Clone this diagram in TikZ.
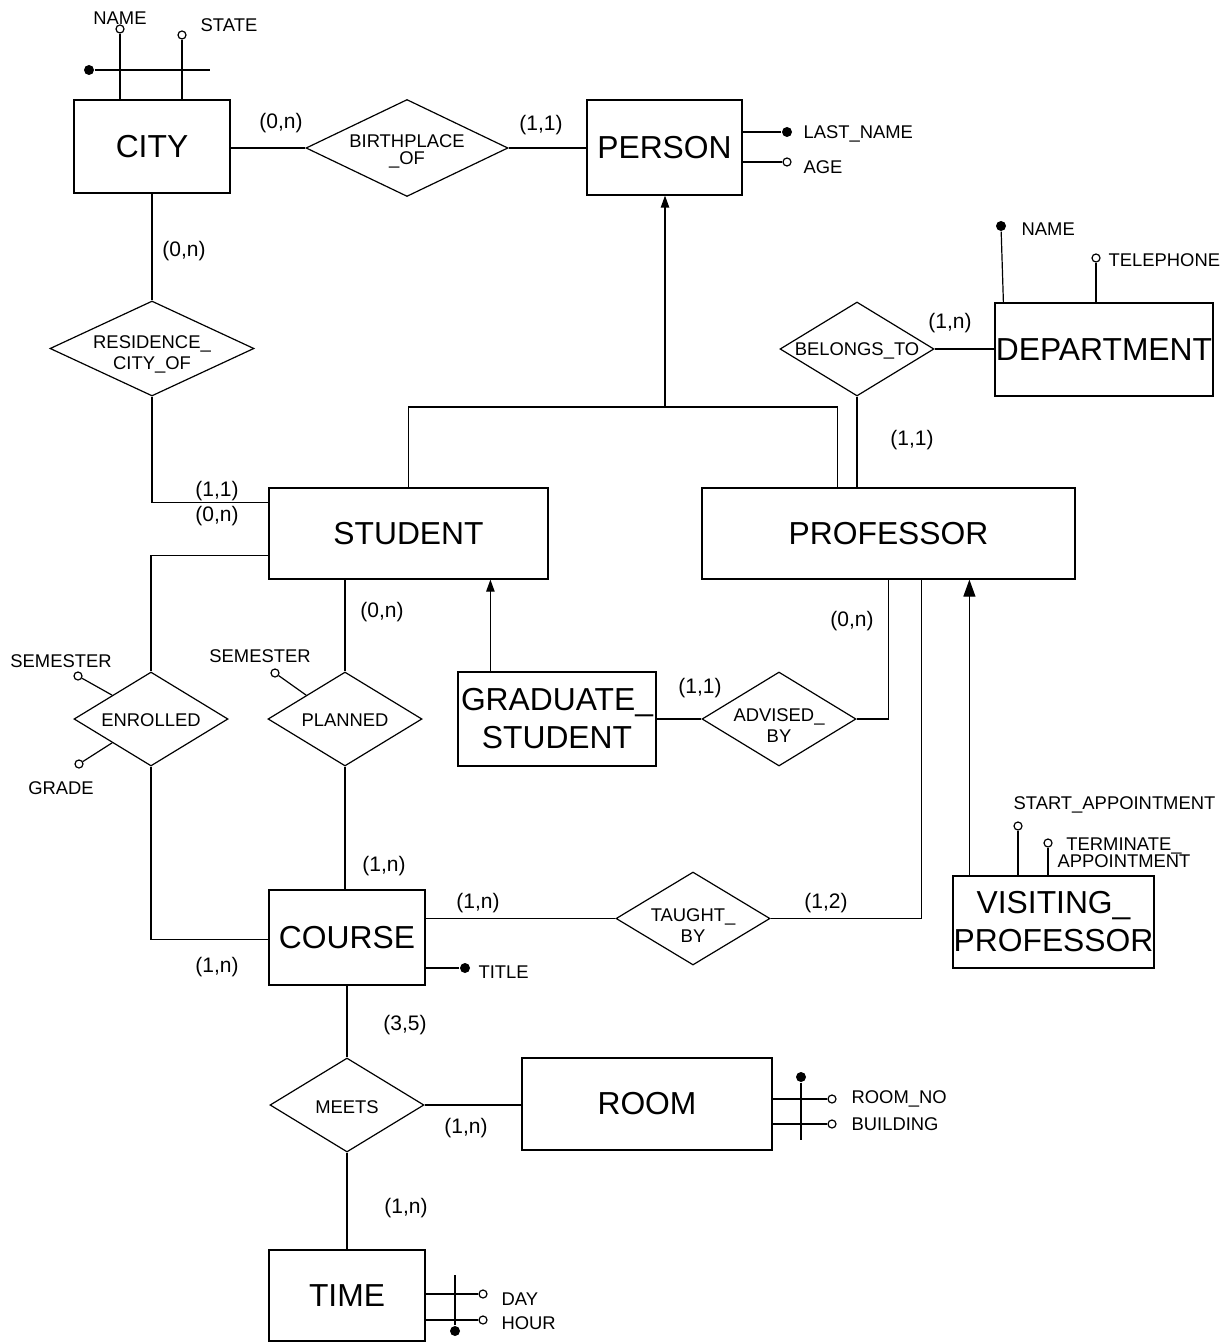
\documentclass[tikz,border=0pt]{standalone}
\usepackage{fontspec}
\setmainfont{Liberation Sans}
\usetikzlibrary{shapes.geometric,arrows.meta,calc}

\tikzset{
  ent/.style={draw, rectangle, inner sep=0pt, align=center,
              font=\fontsize{15.9}{19}\selectfont},
  rel/.style={draw, diamond, inner sep=0pt, minimum width=77pt, minimum height=47pt},
  reltext/.style={inner sep=0pt, align=center, font=\fontsize{9.2}{10.5}\selectfont},
  card/.style={inner sep=0pt, font=\fontsize{10.5}{12}\selectfont},
  lbl/.style={inner sep=0pt, font=\fontsize{9.2}{10.5}\selectfont},
  keyattr/.style={circle, fill=black, inner sep=0pt, minimum size=5pt},
  optattr/.style={circle, draw, fill=white, inner sep=0pt, minimum size=4pt},
  link/.style={line width=0.6pt},
  isasmall/.style={link, -{Triangle[length=6pt,width=4.2pt]}},
  isabig/.style={link, -{Triangle[length=8.5pt,width=6pt]}}
}

\begin{document}
\begin{tikzpicture}[x=0.5pt, y=-0.5pt, line width=0.6pt]
\useasboundingbox (0,0) rectangle (1226,1342);

% ---------- entities ----------
\node[ent, minimum width=78pt,   minimum height=46.5pt] (city)      at (152,146.5)  {CITY};
\node[ent, minimum width=77.5pt, minimum height=47.5pt] (person)    at (664.5,147.5) {PERSON};
\node[ent, minimum width=109pt,  minimum height=46.5pt] (dept)      at (1104,349.5) {DEPARTMENT};
\node[ent, minimum width=139.5pt,minimum height=45.5pt] (student)   at (408.5,533.5) {STUDENT};
\node[ent, minimum width=186.5pt,minimum height=45.5pt] (professor) at (888.5,533.5) {PROFESSOR};
\node[ent, minimum width=99pt,   minimum height=47pt]   (grad)      at (557,719)    {GRADUATE\_\\STUDENT};
\node[ent, minimum width=100.5pt,minimum height=46pt]   (visiting)  at (1053.5,922) {VISITING\_\\PROFESSOR};
\node[ent, minimum width=78pt,   minimum height=47.5pt] (course)    at (347,937.5)  {COURSE};
\node[ent, minimum width=125pt,  minimum height=46pt]   (room)      at (647,1104)   {ROOM};
\node[ent, minimum width=78pt,   minimum height=45.5pt] (time)      at (347,1295.5) {TIME};

% ---------- relationships (diamond + centred caption) ----------
\node[rel, minimum width=101pt, minimum height=48.5pt,
      label={[reltext, yshift=-1.5pt, font=\fontsize{9.2}{8.5}\selectfont]center:BIRTHPLACE\\\_OF}]
      (birth)    at (407,148)   {};
\node[rel, minimum width=102pt, minimum height=47.5pt,
      label={[reltext, yshift=-3pt]center:RESIDENCE\_\\CITY\_OF}]
      (resid)    at (152,348.5) {};
\node[rel, label={[reltext, yshift=-1pt]center:BELONGS\_TO}]      (belongs)  at (857,349)   {};
\node[rel, label={[reltext, yshift=-0.5pt]center:ENROLLED}]       (enrolled) at (151,719)   {};
\node[rel, label={[reltext, yshift=-0.5pt]center:PLANNED}]        (planned)  at (345,719)   {};
\node[rel, label={[reltext, yshift=-3.5pt]center:ADVISED\_\\BY}]  (advised)  at (779,719)   {};
\node[rel, minimum height=46.5pt,
      label={[reltext, yshift=-3.5pt]center:TAUGHT\_\\BY}]        (taught)   at (693,918.5) {};
\node[rel, label={[reltext, yshift=-1pt]center:MEETS}]            (meets)    at (347,1105)  {};

% ---------- relationship links ----------
\draw[link] (birth.west) -- (birth.west -| city.east);
\draw[link] (birth.east) -- (birth.east -| person.west);
\draw[link] (city.south -| resid.north) -- (resid.north);
\draw[link] (resid.south) |- ($(student.north west)+(0,15)$);
\draw[link] ($(student.south west)+(0,-24)$) -| (enrolled.north);
\draw[link] (enrolled.south) |- ($(course.north west)+(0,50)$);
\draw[link] (planned.north |- student.south) -- (planned.north);
\draw[link] (planned.south) -- (planned.south |- course.north);
\draw[link] (advised.west -| grad.east) -- (advised.west);
\draw[link] (advised.east) -| (professor.south);
\draw[link] (belongs.south) -- (belongs.south |- professor.north);
\draw[link] (belongs.east) -- (belongs.east -| dept.west);
\draw[link] (taught.west -| course.east) -- (taught.west);
\draw[link] (taught.east) -| ($(professor.south west)+(220,0)$);
\draw[link] (course.south) -- (meets.north);
\draw[link] (meets.east) -- (meets.east -| room.west);
\draw[link] (meets.south) -- (time.north);

% ---------- generalisations ----------
\coordinate (isa) at (665,407);
\draw[link] (student.north) |- (isa) -| ($(professor.north west)+(136,0)$);
\draw[isasmall] (isa) -- (isa |- person.south);
\coordinate (gradtop) at ($(grad.north west)+(33,0)$);
\draw[isasmall] (gradtop) -- (gradtop |- student.south);
\coordinate (vistop) at ($(visiting.north west)+(17,0)$);
\draw[isabig] (vistop) -- (vistop |- professor.south);

% ---------- attributes: CITY ----------
\node[optattr] (cname)  at (120,29) {};
\node[optattr] (cstate) at (182,35) {};
\draw[link] (cname) -- (cname |- city.north);
\draw[link] (cstate) -- (cstate |- city.north);
\node[keyattr] (ckey) at (89,70) {};
\coordinate (ckeyend) at (210,70);
\draw[link] (ckey) -- (ckeyend);
\node[lbl] (cnamet)  at (120,18) {NAME};
\node[lbl] (cstatet) at (229,25) {STATE};

% ---------- attributes: PERSON ----------
\node[keyattr] (plast) at (787,132) {};
\node[optattr] (page)  at (787,162) {};
\draw[link] (plast) -- (plast -| person.east);
\draw[link] (page) -- (page -| person.east);
\node[lbl, anchor=west] (plastt) at (803,134) {LAST\_NAME};
\node[lbl, anchor=west] (paget)  at (803,167) {AGE};

% ---------- attributes: DEPARTMENT ----------
\node[keyattr] (dname) at (1001,226) {};
\node[optattr] (dtel)  at (1096,258) {};
\draw[link] (dname) -- ($(dept.north west)+(9,0)$);
\draw[link] (dtel) -- (dtel |- dept.north);
\node[lbl, anchor=west] (dnamet) at (1021,229) {NAME};
\node[lbl, anchor=west] (dtelt)  at (1108,260) {TELEPHONE};

% ---------- attributes: ENROLLED / PLANNED ----------
\node[optattr] (esem)  at (78,676) {};
\node[optattr] (egrad) at (79,764) {};
\draw[link] (esem) -- ($(enrolled.north)!0.5!(enrolled.west)$);
\draw[link] (egrad) -- ($(enrolled.west)!0.5!(enrolled.south)$);
\node[lbl] (esemt)  at (61,661) {SEMESTER};
\node[lbl] (egradt) at (61,788) {GRADE};
\node[optattr] (psem) at (275,673) {};
\draw[link] (psem) -- ($(planned.north)!0.5!(planned.west)$);
\node[lbl] (psemt) at (260,656) {SEMESTER};

% ---------- attributes: VISITING_PROFESSOR ----------
\node[optattr] (vstart) at (1018,826) {};
\node[optattr] (vterm)  at (1048,843) {};
\draw[link] (vstart) -- (vstart |- visiting.north);
\draw[link] (vterm) -- (vterm |- visiting.north);
\node[lbl, anchor=west] (vstartt) at (1013,805) {START\_APPOINTMENT};
\node[lbl, align=center, font=\fontsize{9.2}{8.6}\selectfont] (vtermt) at (1124,853) {TERMINATE\_\\APPOINTMENT};

% ---------- attributes: COURSE ----------
\node[keyattr] (ctitle) at (465,968) {};
\draw[link] (ctitle) -- (ctitle -| course.east);
\node[lbl, anchor=west] (ctitlet) at (478,972) {TITLE};

% ---------- attributes: ROOM ----------
\node[keyattr] (rkey) at (801,1077) {};
\coordinate (rkeyend) at (801,1140);
\draw[link] (rkey) -- (rkeyend);
\node[optattr] (rno)  at (832,1099) {};
\node[optattr] (rbld) at (832,1124) {};
\draw[link] (rno) -- (rno -| room.east);
\draw[link] (rbld) -- (rbld -| room.east);
\node[lbl, anchor=west] (rnot)  at (851,1099) {ROOM\_NO};
\node[lbl, anchor=west] (rbldt) at (851,1124) {BUILDING};

% ---------- attributes: TIME ----------
\node[keyattr] (tkey) at (455,1331) {};
\coordinate (tkeyend) at (455,1275);
\draw[link] (tkey) -- (tkeyend);
\node[optattr] (tday)  at (483,1294) {};
\node[optattr] (thour) at (483,1320) {};
\draw[link] (tday) -- (tday -| time.east);
\draw[link] (thour) -- (thour -| time.east);
\node[lbl, anchor=west] (tdayt)  at (501,1299) {DAY};
\node[lbl, anchor=west] (thourt) at (501,1323) {HOUR};

% ---------- cardinalities ----------
\node[card] (c1)  at (281,123)  {(0,n)};
\node[card] (c2)  at (541,125)  {(1,1)};
\node[card] (c3)  at (184,251)  {(0,n)};
\node[card] (c4)  at (217,491)  {(1,1)};
\node[card] (c5)  at (217,516)  {(0,n)};
\node[card] (c6)  at (382,612)  {(0,n)};
\node[card] (c7)  at (912,440)  {(1,1)};
\node[card] (c8)  at (950,323)  {(1,n)};
\node[card] (c9)  at (852,621)  {(0,n)};
\node[card] (c10) at (700,688)  {(1,1)};
\node[card] (c11) at (384,866)  {(1,n)};
\node[card] (c12) at (478,903)  {(1,n)};
\node[card] (c13) at (826,903)  {(1,2)};
\node[card] (c14) at (217,967)  {(1,n)};
\node[card] (c15) at (405,1025) {(3,5)};
\node[card] (c16) at (466,1128) {(1,n)};
\node[card] (c17) at (406,1208) {(1,n)};
\end{tikzpicture}
\end{document}
